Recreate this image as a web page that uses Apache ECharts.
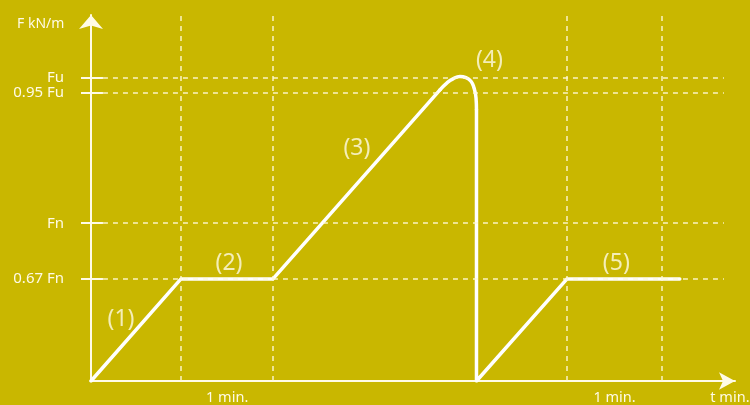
<!DOCTYPE html>
<html>
<head>
<meta charset="utf-8">
<script src="https://cdn.jsdelivr.net/npm/echarts@6/dist/echarts.min.js"></script>
<style>
  html, body { margin: 0; padding: 0; background: #c9b700; }
  #chart { width: 750px; height: 405px; }
</style>
</head>
<body>
<div id="chart"></div>
<script>
  // 时间轴以 "分钟" 为单位，力轴以 Fn = 1 为单位
  var rampUp = [[0, 0], [0.978, 0.647], [1.978, 0.647], [3.793, 1.845]];
  var peakArc = [[3.793, 1.845], [3.87, 1.89], [3.935, 1.915], [4.01, 1.93], [4.076, 1.923], [4.13, 1.9], [4.163, 1.858], [4.185, 1.795], [4.19, 1.72]];
  var dropRepeat = [[4.19, 1.72], [4.19, 0], [5.174, 0.647], [6.4, 0.647]];

  var yTickVals = [0.647, 1, 1.826, 1.923];
  var yTickTexts = ['0.67 Fn', 'Fn', '0.95 Fu', 'Fu'];
  var xGuideVals = [0.978, 1.978, 5.17, 6.2];
  var xLabelVals = [1.48, 5.69, 6.945];
  var xLabelTexts = ['1 min.', '1 min.', 't min.'];

  var stageNames = ['(1)', '(2)', '(3)', '(4)', '(5)'];
  var stagePos = [[0.326, 0.393], [1.5, 0.742], [2.89, 1.471], [4.33, 2.035], [5.71, 0.742]];

  var X_MAX = 7, Y_MAX = 2.32;
  var cream = 'rgba(255,250,215,0.9)';
  var textColor = '#fffbe6';
  var font = '"Noto Sans", "Open Sans", sans-serif';

  var guideLines = [];
  yTickVals.forEach(function (v) {
    // 轴内侧的短实线刻度
    guideLines.push([{coord: [0, v], lineStyle: {type: 'solid', width: 2, color: textColor}}, {coord: [0.13, v]}]);
    guideLines.push([{coord: [0.13, v]}, {coord: [6.88, v]}]);
  });
  xGuideVals.forEach(function (v) {
    guideLines.push([{coord: [v, 0]}, {coord: [v, Y_MAX]}]);
  });

  var lineStyle = {color: '#ffffff', width: 3.5, cap: 'round', join: 'round'};

  var option = {
    backgroundColor: '#c9b700',
    animation: false,
    title: {
      text: 'F kN/m', left: 12, top: 12,
      textStyle: {color: textColor, fontSize: 14, fontWeight: 'normal', fontFamily: font}
    },
    grid: {left: 91, right: 15, top: 15, bottom: 24, outerBoundsMode: 'none'},
    xAxis: {
      type: 'value', min: 0, max: X_MAX,
      splitLine: {show: false},
      axisTick: {show: false},
      axisLine: {lineStyle: {color: textColor, width: 2}, symbol: ['none', 'arrow'], symbolSize: [13, 16]},
      axisLabel: {
        customValues: xLabelVals, margin: 9, color: textColor, fontSize: 14.5, fontFamily: font,
        showMaxLabel: true, showMinLabel: true,
        formatter: function (v) { return xLabelTexts[xLabelVals.indexOf(v)] || ''; }
      }
    },
    yAxis: {
      type: 'value', min: 0, max: Y_MAX,
      splitLine: {show: false},
      axisTick: {customValues: yTickVals, length: 10, lineStyle: {color: textColor, width: 2}},
      axisLine: {lineStyle: {color: textColor, width: 2}, symbol: ['none', 'arrow'], symbolSize: [18, 14]},
      axisLabel: {
        customValues: yTickVals, margin: 27, color: textColor, fontSize: 15, fontFamily: font,
        formatter: function (v) { return yTickTexts[yTickVals.indexOf(v)] || ''; }
      }
    },
    series: [
      {
        type: 'line', data: [], clip: false, silent: true,
        markLine: {
          silent: true, symbol: 'none', animation: false,
          label: {show: false},
          lineStyle: {color: cream, type: [5, 5], width: 1.5},
          data: guideLines
        }
      },
      {type: 'line', data: rampUp, symbol: 'none', lineStyle: lineStyle},
      {type: 'line', data: peakArc, symbol: 'none', smooth: 0.5, lineStyle: lineStyle},
      {type: 'line', data: dropRepeat, symbol: 'none', lineStyle: lineStyle},
      {
        type: 'scatter', symbolSize: 0, silent: true,
        data: stagePos.map(function (p, i) { return {value: p, name: stageNames[i]}; }),
        label: {
          show: true, position: 'inside', formatter: '{b}',
          color: textColor, fontSize: 23, fontFamily: font
        }
      }
    ]
  };

  echarts.init(document.getElementById('chart')).setOption(option);
</script>
</body>
</html>
